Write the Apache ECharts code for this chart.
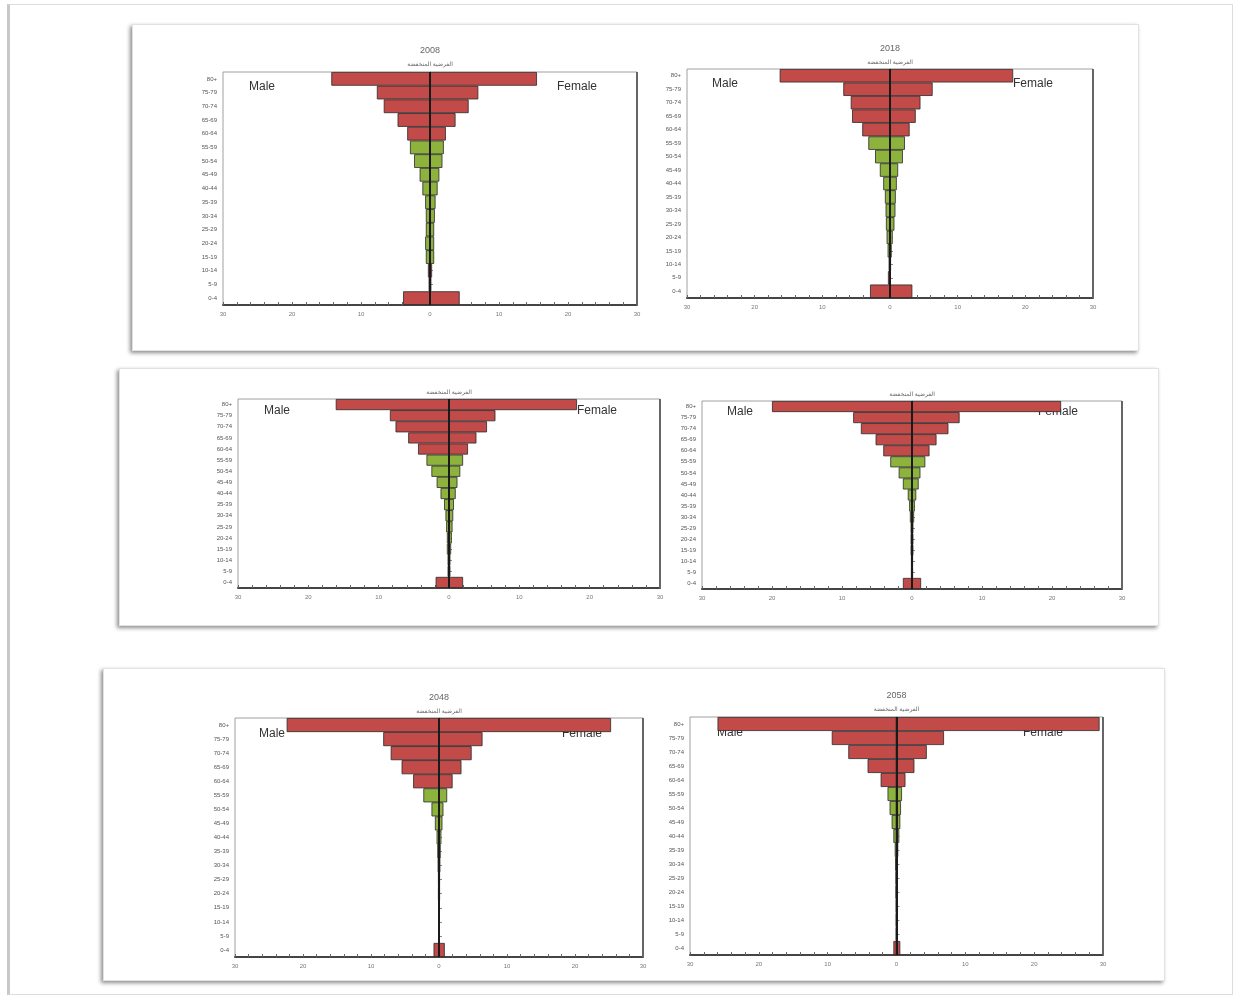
<!DOCTYPE html>
<html>
<head>
<meta charset="utf-8">
<script src="https://cdn.jsdelivr.net/npm/echarts@6/dist/echarts.min.js"></script>
<style>
  html, body { margin: 0; padding: 0; background: #fff; }
  #frame { position: absolute; left: 7px; top: 4px; width: 1222px; height: 989px;
           border: 1px solid #ddd; border-left: 3px solid #c8c8c8; }
  .panel { position: absolute; background: #fff; border: 1px solid #e2e2e2;
           box-shadow: -2px 2px 4px rgba(0,0,0,0.45); }
  #chart { position: absolute; left: 0; top: 0; width: 1234px; height: 999px; }
</style>
</head>
<body>
<div id="frame"></div>
<div class="panel" style="left:132px;top:24px;width:1005px;height:325px;"></div>
<div class="panel" style="left:119px;top:368px;width:1038px;height:256px;"></div>
<div class="panel" style="left:103px;top:668px;width:1060px;height:311px;"></div>
<div id="chart"></div>
<script>
// Age groups, bottom to top
const ages = ['0-4','5-9','10-14','15-19','20-24','25-29','30-34','35-39','40-44','45-49','50-54','55-59','60-64','65-69','70-74','75-79','80+'];
const xTicks = [-30, -20, -10, 0, 10, 20, 30];
const subtitle = 'الفرضية المنخفضة';

// Percent of population (male shown on the left)
const male2008   = [3.9, 0.2, 0.3, 0.6, 0.7, 0.6, 0.6, 0.7, 1.1, 1.5, 2.3, 2.9, 3.3, 4.7, 6.7, 7.7, 14.3];
const female2008 = [4.3, 0.2, 0.3, 0.6, 0.6, 0.6, 0.7, 0.8, 1.1, 1.35, 1.8, 2.0, 2.3, 3.7, 5.6, 7.0, 15.5];
const male2018   = [2.95, 0.3, 0.2, 0.35, 0.5, 0.6, 0.65, 0.75, 1.0, 1.5, 2.2, 3.2, 4.1, 5.6, 5.8, 6.9, 16.3];
const female2018 = [3.3, 0.1, 0.15, 0.25, 0.4, 0.65, 0.8, 0.85, 1.0, 1.2, 1.9, 2.2, 2.9, 3.8, 4.5, 6.3, 18.2];
const maleMidA   = [1.9, 0.2, 0.2, 0.3, 0.3, 0.4, 0.5, 0.7, 1.2, 1.75, 2.5, 3.2, 4.4, 5.8, 7.6, 8.4, 16.1];
const femaleMidA = [2.0, 0.2, 0.2, 0.3, 0.4, 0.5, 0.6, 0.7, 0.95, 1.2, 1.6, 2.0, 2.7, 3.9, 5.4, 6.6, 18.2];
const maleMidB   = [1.3, 0.15, 0.15, 0.2, 0.2, 0.2, 0.3, 0.4, 0.6, 1.3, 1.9, 3.1, 4.1, 5.2, 7.3, 8.4, 20.0];
const femaleMidB = [1.3, 0.15, 0.15, 0.2, 0.2, 0.2, 0.3, 0.4, 0.6, 0.95, 1.2, 1.9, 2.5, 3.5, 5.2, 6.8, 21.3];
const male2048   = [0.8, 0.1, 0.1, 0.1, 0.15, 0.15, 0.2, 0.25, 0.35, 0.6, 1.1, 2.3, 3.8, 5.5, 7.1, 8.2, 22.4];
const female2048 = [0.85, 0.1, 0.1, 0.1, 0.15, 0.15, 0.2, 0.25, 0.35, 0.5, 0.65, 1.2, 2.0, 3.3, 4.8, 6.4, 25.3];
const male2058   = [0.45, 0.1, 0.1, 0.1, 0.15, 0.15, 0.2, 0.25, 0.45, 0.7, 1.0, 1.3, 2.3, 4.2, 7.0, 9.4, 26.0];
const female2058 = [0.55, 0.1, 0.1, 0.1, 0.15, 0.15, 0.2, 0.25, 0.4, 0.55, 0.65, 0.8, 1.3, 2.6, 4.4, 6.9, 29.5];

const panels = [
  { title: '2008', male: male2008, female: female2008, grid: {left: 223, top: 72, width: 414, height: 233},
    titleY: 51, subY: 64, mY: 87, mX: 262, fX: 577 },
  { title: '2018', male: male2018, female: female2018, grid: {left: 687, top: 69, width: 406, height: 229},
    titleY: 49, subY: 62, mY: 84, mX: 725, fX: 1033 },
  { title: '', male: maleMidA, female: femaleMidA, grid: {left: 238, top: 399, width: 422, height: 189},
    titleY: 383, subY: 392, mY: 411, mX: 277, fX: 597 },
  { title: '', male: maleMidB, female: femaleMidB, grid: {left: 702, top: 401, width: 420, height: 188},
    titleY: 384, subY: 394, mY: 412, mX: 740, fX: 1058 },
  { title: '2048', male: male2048, female: female2048, grid: {left: 235, top: 718, width: 408, height: 239},
    titleY: 698, subY: 711, mY: 734, mX: 272, fX: 582 },
  { title: '2058', male: male2058, female: female2058, grid: {left: 690, top: 717, width: 413, height: 238},
    titleY: 696, subY: 709, mY: 733, mX: 730, fX: 1043 }
];

const RED = '#c24a48', GREEN = '#8db33d';
function barColor(p) { return (p.dataIndex >= 3 && p.dataIndex <= 11) ? GREEN : RED; }
const FONT = 'Liberation Sans, Arial, sans-serif';

const grids = [], xAxes = [], yAxes = [], series = [], graphics = [];
panels.forEach((p, i) => {
  grids.push(Object.assign({ show: true, borderColor: '#a0a0a0', borderWidth: 1, backgroundColor: 'transparent' }, p.grid));
  xAxes.push({
    type: 'value', gridIndex: i, min: xTicks[0], max: xTicks[xTicks.length - 1], interval: 10,
    axisLine: { show: true, onZero: false, lineStyle: { color: '#444', width: 2 } },
    axisTick: { show: true, inside: true, length: 3, lineStyle: { color: '#666' } },
    minorTick: { show: true, splitNumber: 5, length: 3, lineStyle: { color: '#666' } },
    splitLine: { show: false },
    axisLabel: { fontSize: 6, color: '#777', margin: 6, fontFamily: FONT, formatter: v => String(Math.abs(v)) }
  });
  yAxes.push({
    type: 'category', gridIndex: i, data: ages,
    axisLine: { show: true, lineStyle: { color: '#888', width: 1 } },
    axisTick: { show: true, inside: true, length: 3, alignWithLabel: true, lineStyle: { color: '#888' } },
    axisLabel: { fontSize: 6, color: '#555', margin: 6, fontFamily: FONT },
    splitLine: { show: false }
  });
  const common = {
    type: 'bar', xAxisIndex: i, yAxisIndex: i, stack: 'pyr' + i, barCategoryGap: '0%', z: 3,
    itemStyle: { color: barColor, borderColor: '#2a2a2a', borderWidth: 0.8 },
    silent: true, animation: false
  };
  series.push(Object.assign({}, common, { name: 'Male', data: p.male.map(v => -v) }));
  series.push(Object.assign({}, common, { name: 'Female', data: p.female,
    markLine: { silent: true, symbol: 'none', animation: false, label: { show: false },
      lineStyle: { color: '#1a1a1a', width: 2, type: 'solid' }, data: [{ xAxis: 0 }] } }));
  const cx = p.grid.left + p.grid.width / 2;
  if (p.title) {
    graphics.push({ type: 'text', x: cx, y: p.titleY, z: 10,
      style: { text: p.title, fill: '#666', fontSize: 9, fontFamily: FONT, textAlign: 'center', textVerticalAlign: 'middle' } });
  }
  graphics.push({ type: 'text', x: cx, y: p.subY, z: 10,
    style: { text: subtitle, fill: '#666', fontSize: 6, fontFamily: 'Noto Sans, DejaVu Sans, sans-serif', textAlign: 'center', textVerticalAlign: 'middle' } });
  graphics.push({ type: 'text', x: p.mX, y: p.mY, z: 0,
    style: { text: 'Male', fill: '#333', fontSize: 12, fontFamily: FONT, textAlign: 'center', textVerticalAlign: 'middle' } });
  graphics.push({ type: 'text', x: p.fX, y: p.mY, z: 0,
    style: { text: 'Female', fill: '#333', fontSize: 12, fontFamily: FONT, textAlign: 'center', textVerticalAlign: 'middle' } });
  // right edge of each plot box is drawn heavier in the reference
  graphics.push({ type: 'line', z: 5, silent: true,
    shape: { x1: p.grid.left + p.grid.width, y1: p.grid.top, x2: p.grid.left + p.grid.width, y2: p.grid.top + p.grid.height },
    style: { stroke: '#666', lineWidth: 2 } });
});

const chart = echarts.init(document.getElementById('chart'), null, { renderer: 'canvas' });
chart.setOption({
  backgroundColor: 'transparent',
  animation: false,
  grid: grids, xAxis: xAxes, yAxis: yAxes, series: series,
  graphic: { elements: graphics }
});
</script>
</body>
</html>
